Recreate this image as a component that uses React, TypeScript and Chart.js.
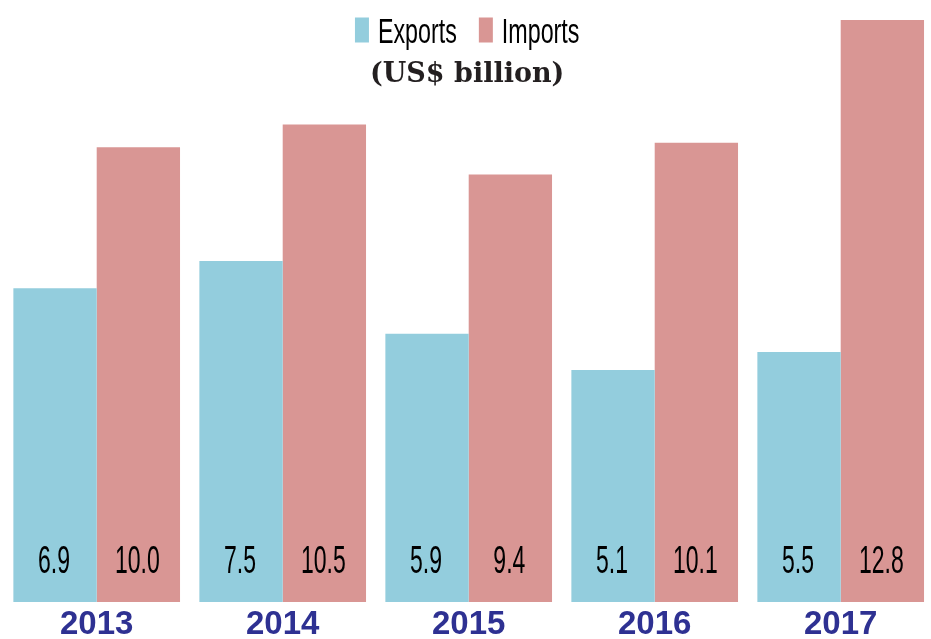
import React, { useEffect, useRef } from 'react';
import { Chart, registerables } from 'chart.js';

Chart.register(...registerables);

// ---- data ----
const years: string[] = ['2013', '2014', '2015', '2016', '2017'];
const exportsValues: number[] = [6.9, 7.5, 5.9, 5.1, 5.5];
const importsValues: number[] = [10.0, 10.5, 9.4, 10.1, 12.8];
const seriesNames: string[] = ['Exports', 'Imports'];
const unitLabel = '(US$ billion)';
const yMax = 12.8;

// ---- styles ----
const EXPORT_COLOR = '#93CDDD';
const IMPORT_COLOR = '#D99694';
const YEAR_COLOR = '#2E3192';
const CONDENSED_FONT = '"Liberation Sans", Arial, sans-serif';

const overlayPlugin = {
  id: 'overlayPlugin',
  afterDatasetsDraw(chart: any) {
    const ctx: CanvasRenderingContext2D = chart.ctx;
    const area = chart.chartArea;

    // value labels inside bars, near the base (condensed horizontally)
    chart.data.datasets.forEach((ds: any, i: number) => {
      const meta = chart.getDatasetMeta(i);
      meta.data.forEach((el: any, j: number) => {
        const v = ds.data[j] as number;
        ctx.save();
        ctx.translate(el.x - 1, area.bottom - 29);
        ctx.scale(0.59, 1);
        ctx.font = '39px ' + CONDENSED_FONT;
        ctx.fillStyle = '#000000';
        ctx.textAlign = 'center';
        ctx.textBaseline = 'alphabetic';
        ctx.fillText(v.toFixed(1), 0, 0);
        ctx.restore();
      });
    });

    // legend (drawn over the plot area, as in the reference)
    const centerX = (area.left + area.right) / 2 - 1.5;
    const boxW = 14;
    const boxH = 25;
    const boxTop = 17.5;
    const gap = 9;
    const spacing = 22;
    const squeeze = 0.665;
    ctx.save();
    ctx.font = '35px ' + CONDENSED_FONT;
    const widths = chart.data.datasets.map((ds: any) => ctx.measureText(ds.label).width * squeeze);
    const total = widths.reduce((a: number, w: number) => a + boxW + gap + w, 0) + spacing * (widths.length - 1);
    let x = centerX - total / 2;
    chart.data.datasets.forEach((ds: any, i: number) => {
      ctx.fillStyle = ds.backgroundColor;
      ctx.fillRect(x, boxTop, boxW, boxH);
      x += boxW + gap;
      ctx.save();
      ctx.translate(x, boxTop + boxH);
      ctx.scale(squeeze, 1);
      ctx.font = '35px ' + CONDENSED_FONT;
      ctx.fillStyle = '#000000';
      ctx.textAlign = 'left';
      ctx.textBaseline = 'alphabetic';
      ctx.fillText(ds.label, 0, 0);
      ctx.restore();
      x += widths[i] + spacing;
    });
    ctx.restore();

    // unit subtitle
    ctx.save();
    ctx.font = 'bold 27px "DejaVu Serif", "Liberation Serif", serif';
    ctx.fillStyle = '#231F20';
    ctx.textAlign = 'center';
    ctx.textBaseline = 'alphabetic';
    ctx.fillText(unitLabel, centerX, 82);
    ctx.restore();
  },
};

export default function App() {
  const canvasRef = useRef<HTMLCanvasElement | null>(null);

  useEffect(() => {
    if (!canvasRef.current) return;
    const chart = new Chart(canvasRef.current, {
      type: 'bar',
      data: {
        labels: years,
        datasets: [
          {
            label: seriesNames[0],
            data: exportsValues,
            backgroundColor: EXPORT_COLOR,
            borderWidth: 0,
          },
          {
            label: seriesNames[1],
            data: importsValues,
            backgroundColor: IMPORT_COLOR,
            borderWidth: 0,
          },
        ],
      },
      options: {
        animation: false,
        responsive: false,
        devicePixelRatio: 1,
        layout: { padding: { left: 3.7, right: 6.3, top: 20, bottom: 0 } },
        datasets: { bar: { categoryPercentage: 0.896, barPercentage: 1 } } as any,
        plugins: {
          legend: { display: false },
          tooltip: { enabled: false },
          title: { display: false },
        },
        scales: {
          x: {
            grid: { display: false, drawTicks: false },
            border: { display: false },
            ticks: {
              color: YEAR_COLOR,
              font: { family: '"Liberation Sans", Arial, sans-serif', size: 33, weight: 'bold' },
              padding: 3,
              maxRotation: 0,
              autoSkip: false,
            },
            afterFit: (s: any) => {
              s.height = 37;
            },
          },
          y: { display: false, min: 0, max: yMax },
        },
      },
      plugins: [overlayPlugin],
    });
    return () => chart.destroy();
  }, []);

  return (
    <canvas
      ref={canvasRef}
      width={940}
      height={639}
      style={{ position: 'fixed', left: 0, top: 0, width: '940px', height: '639px' }}
    />
  );
}
